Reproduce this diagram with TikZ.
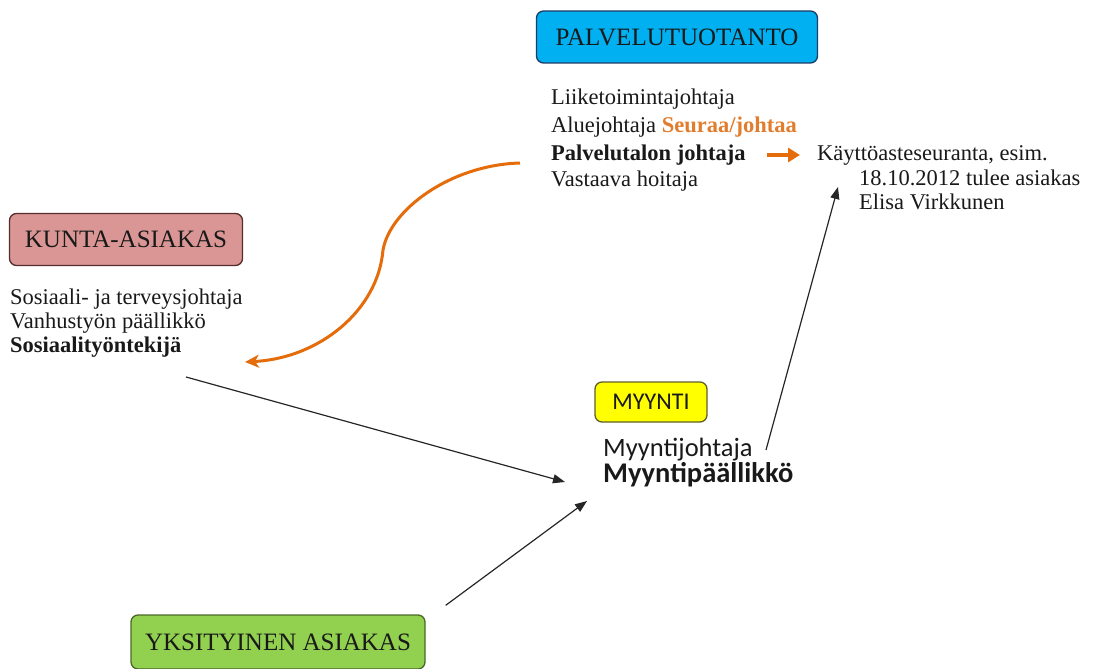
\documentclass[tikz,border=0pt]{standalone}
\usepackage{fontspec}
\setmainfont{Liberation Serif}
\newfontfamily\calibrisans{Carlito}
\usetikzlibrary{arrows.meta,calc}

\definecolor{orangeline}{RGB}{228,108,10}
\definecolor{orangetext}{RGB}{226,125,45}
\definecolor{cyanfill}{RGB}{0,176,240}
\definecolor{cyanedge}{RGB}{30,60,100}
\definecolor{pinkfill}{RGB}{217,150,148}
\definecolor{pinkedge}{RGB}{85,45,45}
\definecolor{yellowfill}{RGB}{255,255,0}
\definecolor{yellowedge}{RGB}{95,95,45}
\definecolor{greenfill}{RGB}{146,208,80}
\definecolor{greenedge}{RGB}{75,105,40}
\definecolor{inktext}{RGB}{25,25,25}

\begin{document}
\begin{tikzpicture}[x=1pt,y=-1pt,
  serif/.style={font=\fontsize{22.5}{27}\selectfont},
  unitbox/.style={draw, rounded corners=7pt, line width=1.3pt, inner sep=0pt,
    font=\fontsize{25}{28}\selectfont, text=inktext},
  txt/.style={anchor=base west, inner sep=0pt, serif, text=inktext},
  sanstxt/.style={anchor=base west, inner sep=0pt, text=inktext,
    font=\calibrisans\fontsize{26.5}{30}\selectfont},
  flow/.style={draw=black!85, line width=1.2pt,
    -{Triangle[length=12pt,width=9pt]}},
  follow/.style={draw=orangeline, line width=3pt,
    -{Stealth[length=14pt,width=13pt,inset=4pt]}}
]
\useasboundingbox (0,0) rectangle (1104,669);

% unit headings
\node[unitbox, fill=cyanfill, draw=cyanedge, minimum width=281pt, minimum height=52pt]
  (palvelu) at (677,37) {PALVELUTUOTANTO};
\node[unitbox, fill=pinkfill, draw=pinkedge, minimum width=233pt, minimum height=52pt]
  (kunta) at (126,239.5) {KUNTA-ASIAKAS};
\node[unitbox, fill=yellowfill, draw=yellowedge, minimum width=112pt, minimum height=40pt,
  font=\calibrisans\fontsize{24}{28}\selectfont]
  (myynti) at (651,402) {MYYNTI};
\node[unitbox, fill=greenfill, draw=greenedge, minimum width=294pt, minimum height=54pt]
  (yksityinen) at (278,642) {YKSITYINEN ASIAKAS};

% service production roles
\node[txt] (lj) at (551,105) {Liiketoimintajohtaja};
\node[txt] (aj) at (551,132) {Aluejohtaja \textcolor{orangetext}{\bfseries Seuraa/johtaa}};
\node[txt] (pj) at (551,160) {\bfseries Palvelutalon johtaja};
\node[txt] (vh) at (551,186) {Vastaava hoitaja};

% occupancy follow-up
\node[txt] (ky) at (817,160) {Käyttöasteseuranta, esim.};
\node[txt] (kd) at (859,185) {18.10.2012 tulee asiakas};
\node[txt] (ke) at (859,209) {Elisa Virkkunen};

% municipal customer roles
\node[txt] (stj) at (10,304) {Sosiaali- ja terveysjohtaja};
\node[txt] (vp) at (10,328) {Vanhustyön päällikkö};
\node[txt] (sos) at (10,352) {\bfseries Sosiaalityöntekijä};

% sales roles
\node[sanstxt] (mj) at (603,456) {Myyntijohtaja};
\node[sanstxt, font=\calibrisans\fontsize{28.5}{30}\selectfont] (mp) at (603,482)
  {\bfseries Myyntipäällikkö};

% orange connectors
\draw[draw=orangeline, line width=4.5pt, -{Triangle[length=12pt,width=14pt]}]
  ($(pj.base west)+(216,-5)$) -- ($(ky.base west)+(-17,-5)$);
\draw[follow]
  ($(pj.base west)+(-31,3)$) .. controls (450,165) and (390,210) .. (383,250)
  .. controls (378,310) and (320,358) .. ($(sos.base west)+(235,10)$);

% black connectors
\draw[flow] ($(sos.base west)+(176,25)$) -- ($(mp.base west)+(-38,0)$);
\draw[flow] ($(yksityinen.north east)+(20,-9)$) -- ($(mp.base west)+(-16,19)$);
\draw[flow] ($(mj.base west)+(163,-6)$) -- ($(ky.base west)+(21,27)$);
\end{tikzpicture}
\end{document}
